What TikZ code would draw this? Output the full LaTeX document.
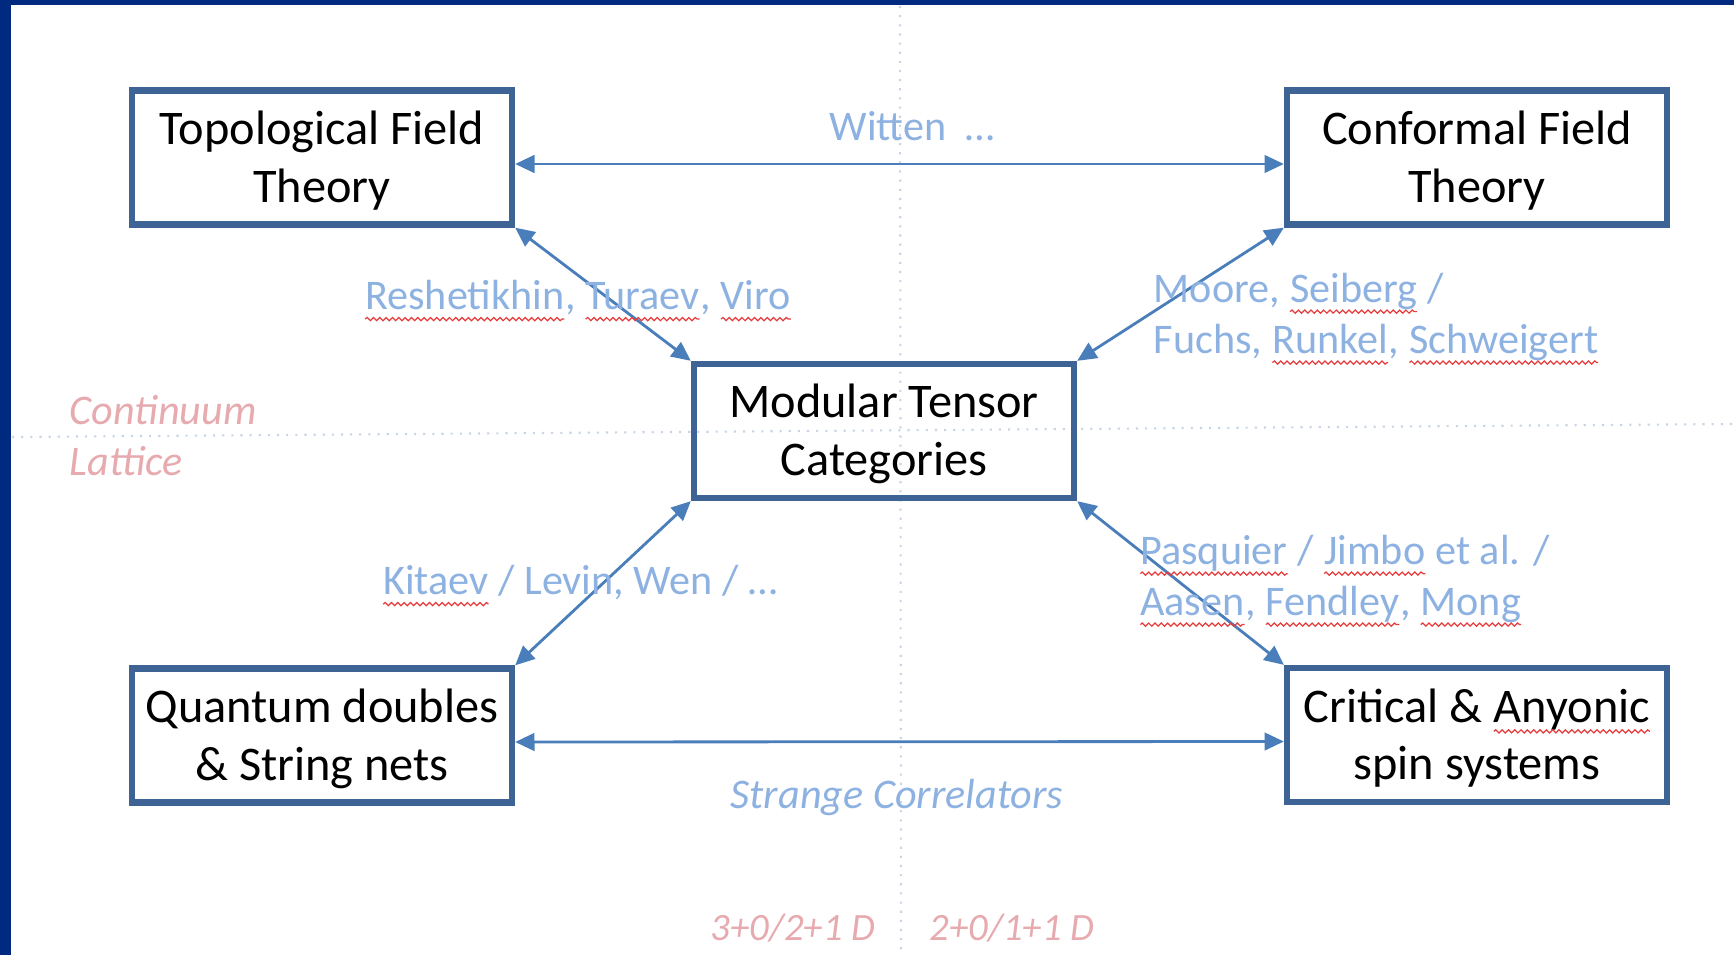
\documentclass[tikz,border=0pt]{standalone}
\usepackage{fontspec}
\setmainfont{Carlito}
\usetikzlibrary{arrows.meta,decorations.pathmorphing}
\definecolor{frameblue}{RGB}{0,41,128}
\definecolor{boxblue}{RGB}{62,100,150}
\definecolor{arrowblue}{RGB}{74,126,187}
\definecolor{lblblue}{RGB}{141,178,226}
\definecolor{pinktext}{RGB}{230,170,175}
\definecolor{guidecol}{RGB}{200,212,232}
\definecolor{spellred}{RGB}{230,60,60}
\newcommand{\sqw}[1]{\tikz[baseline=(w.base)]{\node[draw=none,fill=none,inner sep=0pt,outer sep=0pt,minimum width=0pt,minimum height=0pt,anchor=base](w){#1};\draw[spellred,line width=0.35pt,decorate,decoration={snake,amplitude=0.45pt,segment length=1.8pt}]([yshift=-2.6pt]w.base west)--([yshift=-2.6pt]w.base east);}}
\begin{document}
\begin{tikzpicture}[x=0.1mm,y=-0.1mm,
  box/.style={draw=boxblue,line width=1.8pt,minimum width=38.0mm,minimum height=13.4mm,inner sep=0pt},
  boxtext/.style={align=center,inner sep=0pt,font=\fontsize{13.75}{16.4}\selectfont,text=black,yshift=-0.9pt},
  link/.style={draw=arrowblue,line width=0.8pt,{Triangle[length=5.5pt,width=5pt]}-{Triangle[length=5.5pt,width=5pt]}},
  lbl/.style={text=lblblue,font=\fontsize{12}{14.5}\selectfont,inner sep=0pt},
  pinklbl/.style={text=pinktext,font=\itshape\fontsize{12}{14.5}\selectfont,inner sep=0pt},
  guide/.style={draw=guidecol,line width=0.6pt,dotted}]
\useasboundingbox (0,0) rectangle (1734,955);
\fill[white] (0,0) rectangle (1734,955);
\fill[frameblue] (0,0) rectangle (1734,5);
\fill[frameblue] (0,0) rectangle (11,955);
% guide lines
\coordinate (gl) at (12,437);
\coordinate (gr) at (1734,424);
\coordinate (gt) at (900,6);
\coordinate (gb) at (901,955);
\draw[guide] (gl) -- (gr);
\draw[guide] (gt) -- (gb);
% boxes
\node[box,label={[boxtext]center:Topological Field\\Theory}] (tft) at (322,157.5) {};
\node[box,label={[boxtext]center:Conformal Field\\Theory}] (cft) at (1477,157.5) {};
\node[box,label={[boxtext]center:Modular Tensor\\Categories}] (mtc) at (884,431) {};
\node[box,label={[boxtext]center:Quantum doubles\\\& String nets}] (qd) at (322,735.5) {};
\node[box,label={[boxtext]center:Critical \& \sqw{Anyonic}\\spin systems}] (crit) at (1477,735) {};
% connectors
\draw[link] ([yshift=-1.85pt]tft.east) -- ([yshift=-1.85pt]cft.west);
\draw[link] ([yshift=-1.85pt]qd.east) -- ([yshift=-1.85pt]crit.west);
\draw[link] (tft.south east) -- (mtc.north west);
\draw[link] (cft.south west) -- (mtc.north east);
\draw[link] (qd.north east) -- (mtc.south west);
\draw[link] (crit.north west) -- (mtc.south east);
% labels
\node[lbl] (witten) at (912,126) {Witten\ \ …};
\node[lbl] (rtv) at (578,301) {\sqw{Reshetikhin}, \sqw{Turaev}, \sqw{Viro}};
\node[lbl,anchor=west,align=left] (ms) at (1153,319) {Moore, \sqw{Seiberg} /\\Fuchs, \sqw{Runkel}, \sqw{Schweigert}};
\node[lbl] (klw) at (580,586) {\sqw{Kitaev} / Levin, Wen / …};
\node[lbl,anchor=west,align=left] (pj) at (1139,581) {\sqw{Pasquier} / \sqw{Jimbo} et al. /\\\sqw{Aasen}, \sqw{Fendley}, \sqw{Mong}};
\node[lbl,font=\itshape\fontsize{12}{14.5}\selectfont] (sc) at (897,797) {Strange Correlators};
\node[pinklbl,anchor=west,align=left] (cl) at (69,435.5) {Continuum\\Lattice};
\node[pinklbl,font=\itshape\fontsize{11}{13}\selectfont] (d3) at (793,928) {3+0/2+1 D};
\node[pinklbl,font=\itshape\fontsize{11}{13}\selectfont] (d2) at (1012,928) {2+0/1+1 D};
\end{tikzpicture}
\end{document}
